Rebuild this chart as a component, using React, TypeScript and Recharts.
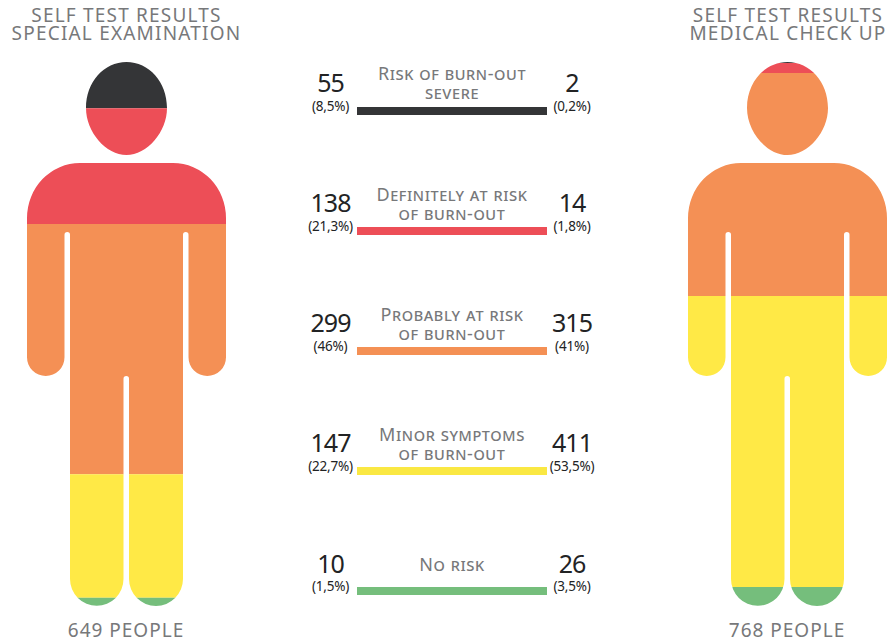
import { BarChart, Bar, XAxis, YAxis, LabelList } from 'recharts'

const riskKeys = ['severe', 'definite', 'probable', 'minor', 'none']
const riskColors = ['#343537', '#ED4E57', '#F49055', '#FFE946', '#75BE7C']
const swatchColors = ['#343537', '#ED4E57', '#F49055', '#FAE843', '#75BE7C']

const riskLabels = [
  ['Risk of burn-out', 'severe'],
  ['Definitely at risk', 'of burn-out'],
  ['Probably at risk', 'of burn-out'],
  ['Minor symptoms', 'of burn-out'],
  ['No risk'],
]

const specialCounts = [55, 138, 299, 147, 10]
const specialShares = [8.5, 21.3, 46, 22.7, 1.5]
const medicalCounts = [2, 14, 315, 411, 26]
const medicalShares = [0.2, 1.8, 41, 53.5, 3.5]

const FONT = '"Noto Sans", sans-serif'
const GREY = '#77787A'
const INK = '#222324'

// silhouette, in the 199x544 box of the stacked bar
const PERSON_PATH =
  'M59,46 C59,20 77,0 99.5,0 C122,0 140,20 140,46 C140,70 120,93 99.5,93 C79,93 59,70 59,46 Z ' +
  'M53,101 H146 A53,55 0 0 1 199,156 V295.25 A18.75,18.75 0 0 1 161.5,295.25 V172.75 A2.75,2.75 0 0 0 156,172.75 ' +
  'V517 A27,27 0 0 1 102,517 V316.75 A2.75,2.75 0 0 0 96.5,316.75 V517 A26.75,26.75 0 0 1 43,517 ' +
  'V172.75 A2.75,2.75 0 0 0 37.5,172.75 V295.25 A18.75,18.75 0 0 1 0,295.25 V156 A53,55 0 0 1 53,101 Z'

const fmtShare = (v: number) => `(${String(v).replace('.', ',')}%)`

function Person({ shares, left }: { shares: number[]; left: number }) {
  const row: Record<string, number | string> = { name: 'people' }
  riskKeys.forEach((k, i) => {
    row[k] = shares[i]
  })
  return (
    <div style={{ position: 'absolute', left, top: 62, width: 199, height: 544, clipPath: `path('${PERSON_PATH}')` }}>
      <BarChart width={199} height={544} data={[row]} margin={{ top: 0, right: 0, bottom: 0, left: 0 }} barCategoryGap={0}>
        <XAxis dataKey="name" hide />
        <YAxis type="number" domain={[0, 100]} reversed hide />
        {riskKeys.map((k, i) => (
          <Bar key={k} dataKey={k} stackId="a" fill={riskColors[i]} isAnimationActive={false} />
        ))}
      </BarChart>
    </div>
  )
}

function Heading({ lines, center, top, spacing }: { lines: string[]; center: number; top: number; spacing: number }) {
  return (
    <div
      style={{
        position: 'absolute',
        left: center - 130,
        width: 260,
        top,
        textAlign: 'center',
        fontFamily: FONT,
        fontSize: 19,
        lineHeight: '18px',
        letterSpacing: spacing,
        color: GREY,
      }}
    >
      {lines.map((l) => (
        <div key={l}>{l}</div>
      ))}
    </div>
  )
}

const keyRows = riskKeys.map((k) => ({ name: k, key: 1 }))

function renderRowText(props: any) {
  const { x, y, height, index } = props
  const midY = y + height / 2
  const lines = riskLabels[index]
  const textProps = { fontFamily: FONT, textAnchor: 'middle' as const }
  const leftX = x - 26.5
  const rightX = x + 215
  const countY = lines.length === 1 ? midY - 18 : midY - 19
  const labelY = index === 0 ? midY - 31 : midY - 30
  return (
    <g>
      <text {...textProps} x={leftX} y={countY} fontSize={25} letterSpacing={-1} fill={INK}>{specialCounts[index]}</text>
      <text {...textProps} x={leftX} y={midY} fontSize={13.5} letterSpacing={-0.2} fill={INK}>{fmtShare(specialShares[index])}</text>
      <text {...textProps} x={rightX} y={countY} fontSize={25} letterSpacing={-1} fill={INK}>{medicalCounts[index]}</text>
      <text {...textProps} x={rightX} y={midY} fontSize={13.5} letterSpacing={-0.2} fill={INK}>{fmtShare(medicalShares[index])}</text>
      {lines.map((l, j) => (
        <text
          key={l}
          {...textProps}
          x={x + 95}
          y={lines.length === 1 ? midY - 20 : labelY + j * 19}
          fontSize={18}
          letterSpacing={0.6}
          fill={GREY}
          style={{ fontVariant: 'small-caps' }}
        >
          {l}
        </text>
      ))}
    </g>
  )
}

export default function App() {
  return (
    <div style={{ position: 'absolute', left: 0, top: 0, width: 888, height: 642, overflow: 'hidden', background: '#fff' }}>
      <Heading lines={['SELF TEST RESULTS', 'SPECIAL EXAMINATION']} center={126.5} top={6} spacing={1.2} />
      <Heading lines={['SELF TEST RESULTS', 'MEDICAL CHECK UP']} center={788} top={6} spacing={1.2} />
      <Person shares={specialShares} left={27} />
      <Person shares={medicalShares} left={688} />
      <div style={{ position: 'absolute', left: 300, top: 51 }}>
        <BarChart
          width={300}
          height={600}
          data={keyRows}
          layout="vertical"
          margin={{ top: 0, right: 53, bottom: 0, left: 57 }}
          barSize={8}
        >
          <XAxis type="number" domain={[0, 1]} hide />
          <YAxis type="category" dataKey="name" hide />
          <Bar dataKey="key" isAnimationActive={false} shape={(p: any) => <rect x={p.x} y={p.y} width={p.width} height={p.height} fill={swatchColors[p.index]} />}>
            <LabelList content={renderRowText} />
          </Bar>
        </BarChart>
      </div>
      <Heading lines={['649 PEOPLE']} center={126} top={621} spacing={1} />
      <Heading lines={['768 PEOPLE']} center={787} top={621} spacing={1} />
    </div>
  )
}
